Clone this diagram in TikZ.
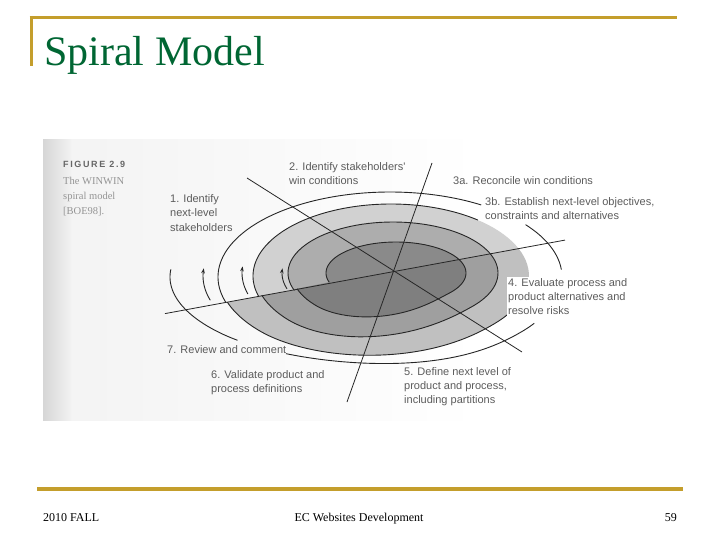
\documentclass[tikz,border=0pt]{standalone}
\usepackage{fontspec}
\setmainfont{Liberation Serif}
\newfontfamily\labfont{Liberation Sans}
\newfontfamily\figfont[LetterSpace=18]{Liberation Sans}
\usetikzlibrary{arrows.meta}
\definecolor{gold}{RGB}{196,158,44}
\definecolor{titlegreen}{RGB}{0,102,51}
\definecolor{ink}{gray}{0.15}
\definecolor{labgray}{gray}{0.36}
\definecolor{capgray}{gray}{0.58}
\definecolor{figgray}{gray}{0.40}
\definecolor{ringA}{gray}{0.54}
\definecolor{ringB}{gray}{0.68}
\definecolor{ringC}{gray}{0.82}
% spiral turn: domain #1:#2, centre (#3,#4), radii (#5,#6) growing to (#7,#8)
\newcommand\sparc[8]{plot[domain=#1:#2,samples=110] ({#3+(#5+(#7-#5)*lam(\x))*cos(\x)},{#4+(#6+(#8-#6)*lam(\x))*sin(\x)})}
% plain elliptic arc: domain #1:#2, centre (#3,#4), radii (#5,#6)
\newcommand\earc[6]{plot[domain=#1:#2,samples=12] ({#3+#5*cos(\x)},{#4+#6*sin(\x)})}
\begin{document}
\begin{tikzpicture}[x=1pt,y=-1pt,
  declare function={lin(\s)=min(1,max(0,(\s-400)/100));
                    lam(\s)=lin(\s)*lin(\s)*(3-2*lin(\s));},
  ring/.style={draw=ink,line width=0.9pt},
  tip/.style={-{Stealth[length=5pt,width=3.6pt]}},
  axisline/.style={draw=ink,line width=0.8pt},
  lab/.style={font=\labfont\fontsize{11}{14.3}\selectfont,text=labgray,align=left,inner sep=0pt,anchor=base west},
  captext/.style={font=\fontsize{10.5}{15}\selectfont,text=capgray,align=left,inner sep=0pt,anchor=base west},
  foot/.style={font=\fontsize{12}{14}\selectfont,text=black,inner sep=0pt}]
\useasboundingbox (0,0) rectangle (720,540);

% scanned page background
\fill[left color=gray!32,right color=gray!9] (43,140) rectangle (72,420);
\fill[left color=gray!9,right color=white] (72,140) rectangle (480,420);

% slide frame
\draw[gold,line width=3pt] (29.5,17.5) -- (677,17.5);
\draw[gold,line width=3pt] (31,16) -- (31,66);
\draw[gold,line width=4pt] (37,488.5) -- (683,488.5);

\node[anchor=base west,inner sep=0pt,text=titlegreen,font=\fontsize{42}{48}\selectfont] (title) at (44,66) {Spiral Model};

% shaded turns of the spiral
\fill[ringC] \sparc{163.5}{522}{391}{276}{138}{72}{172}{85} -- cycle;
\fill[ringB] \sparc{160}{522}{393}{273}{105}{51}{138}{72} -- cycle;
\fill[ringA] \sparc{162.7}{522}{396}{273}{70}{31}{104}{51} -- cycle;
\begin{scope}
  \clip \sparc{163.5}{522}{391}{276}{138}{72}{172}{85} -- cycle;
  \fill[black,opacity=0.08] (100,325.57) -- (600,233.62) -- (600,450) -- (100,450) -- cycle;
\end{scope}

% spiral strokes
\draw[ring] \sparc{162.7}{522}{396}{273}{70}{31}{104}{51};
\draw[ring] \sparc{160}{522}{393}{273}{105}{51}{138}{72};
\draw[ring] \sparc{163.5}{309}{391}{276}{138}{72}{172}{85};
\draw[ring] \sparc{375}{522}{391}{276}{138}{72}{172}{85};
\draw[ring] \sparc{162.6}{302}{390}{277}{172}{85}{220}{88};
\draw[ring] \sparc{322}{355}{390}{277}{172}{85}{220}{88};
\draw[ring] \sparc{393}{479}{390}{277}{172}{85}{220}{88};
\draw[ring] \sparc{494}{545}{390}{277}{172}{85}{220}{88};

% direction arrows on the left
\draw[ring,tip] \earc{163}{185}{396}{273}{114}{54};
\draw[ring,tip] \earc{164}{185}{393}{273}{151}{76};
\draw[ring,tip] \earc{164}{185}{391}{276}{188}{88};

% sector lines
\coordinate (l1a) at (165,313.6);
\coordinate (l1b) at (565,240.1);
\coordinate (l2a) at (432,163);
\coordinate (l2b) at (347,402);
\coordinate (l3a) at (247,178);
\coordinate (l3b) at (522,352);
\draw[axisline] (l1a) -- (l1b);
\draw[axisline] (l2a) -- (l2b);
\draw[axisline] (l3a) -- (l3b);

% caption
\node[font=\figfont\bfseries\fontsize{9}{11}\selectfont,text=figgray,inner sep=0pt,anchor=base west] (figno) at (63,168) {FIGURE 2.9};
\node[captext,anchor=north west] (figcap) at (63,177.5) {The WINWIN\\spiral model\\{[BOE98].}};

% labels
\node[lab,anchor=north west] (lab1) at (170,194.5) {1. Identify\\next-level\\stakeholders};
\node[lab,anchor=north west] (lab2) at (289,162) {2. Identify stakeholders'\\win conditions};
\node[lab] (lab3a) at (453,185) {3a. Reconcile win conditions};
\node[lab,anchor=north west,fill=white,inner sep=1pt] (lab3b) at (484,196.5) {3b. Establish next-level objectives,\\constraints and alternatives};
\node[lab,anchor=north west,fill=white,inner sep=1.5pt] (lab4) at (506.5,276.5) {4. Evaluate process and\\product alternatives and\\resolve risks};
\node[lab,anchor=north west] (lab5) at (404,367) {5. Define next level of\\product and process,\\including partitions};
\node[lab,anchor=north west] (lab6) at (211,370) {6. Validate product and\\process definitions};
\node[lab] (lab7) at (167,353.5) {7. Review and comment};

% footer
\node[foot,anchor=base west] (f1) at (43,521) {2010 FALL};
\node[foot,anchor=base] (f2) at (359,521) {EC Websites Development};
\node[foot,anchor=base east] (f3) at (677,521) {59};
\end{tikzpicture}
\end{document}
